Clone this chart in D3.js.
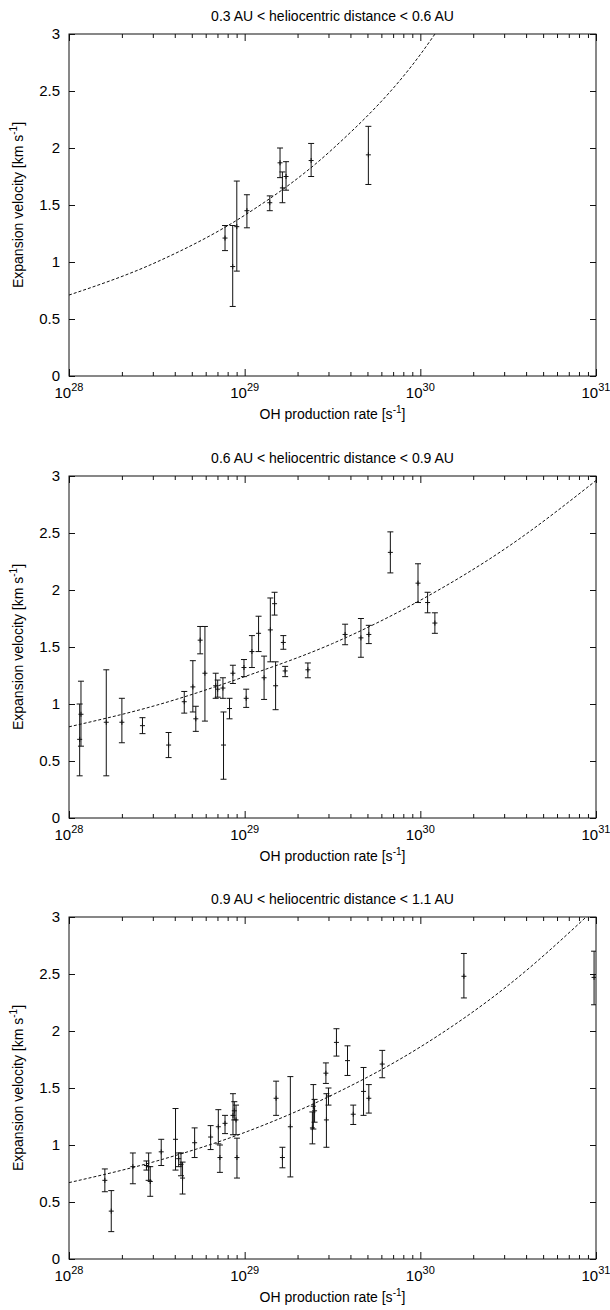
<!DOCTYPE html>
<html>
<head>
<meta charset="utf-8">
<script src="https://cdn.jsdelivr.net/npm/d3@7"></script>
<style>
  body { margin: 0; background: #fff; }
  svg text { font-family: "Liberation Sans", Arial, Helvetica, sans-serif; fill: #000; }
</style>
</head>
<body>
<script>
// panel titles and tick labels
const titles = [
  "0.3 AU < heliocentric distance < 0.6 AU",
  "0.6 AU < heliocentric distance < 0.9 AU",
  "0.9 AU < heliocentric distance < 1.1 AU"
];
const xMajor = [1e28, 1e29, 1e30, 1e31];
const xMajorExp = ["28", "29", "30", "31"];
const yTicks = [0, 0.5, 1, 1.5, 2, 2.5, 3];

// panel 1: OH production rate, velocity, lower / upper end of error bar
const q1  = [7.73e28, 8.55e28, 9.02e28, 1.03e29, 1.39e29, 1.59e29, 1.64e29, 1.72e29, 2.39e29, 5.06e29];
const v1  = [1.21, 0.96, 1.31, 1.45, 1.52, 1.87, 1.65, 1.75, 1.89, 1.94];
const lo1 = [1.10, 0.61, 0.92, 1.30, 1.45, 1.74, 1.52, 1.63, 1.75, 1.68];
const hi1 = [1.32, 1.32, 1.71, 1.59, 1.58, 2.00, 1.79, 1.88, 2.04, 2.19];
const fitQ1 = [1e28, 3.16e28, 1e29, 3.16e29, 1e30, 1.25e30];
const fitV1 = [0.71, 1.00, 1.41, 1.99, 2.82, 3.03];

// panel 2
const q2  = [1.15e28, 1.17e28, 1.63e28, 2.00e28, 2.62e28, 3.69e28, 4.53e28, 5.07e28, 5.27e28, 5.58e28,
             5.94e28, 6.84e28, 7.02e28, 7.52e28, 7.58e28, 8.20e28, 8.57e28, 9.91e28, 1.02e29, 1.10e29,
             1.20e29, 1.29e29, 1.40e29, 1.48e29, 1.50e29, 1.66e29, 1.70e29, 2.29e29, 3.73e29, 4.59e29,
             5.09e29, 6.75e29, 9.70e29, 1.10e30, 1.21e30];
const v2  = [0.69, 0.91, 0.84, 0.84, 0.81, 0.64, 1.02, 1.15, 0.87, 1.56,
             1.27, 1.16, 1.13, 1.14, 0.64, 0.96, 1.27, 1.32, 1.05, 1.46,
             1.62, 1.23, 1.65, 1.88, 1.16, 1.54, 1.29, 1.30, 1.61, 1.58,
             1.61, 2.33, 2.06, 1.89, 1.71];
const lo2 = [0.37, 0.63, 0.37, 0.66, 0.74, 0.53, 0.92, 0.93, 0.76, 1.44,
             0.85, 1.05, 1.06, 1.05, 0.34, 0.87, 1.18, 1.24, 0.97, 1.32,
             1.46, 1.04, 1.37, 1.78, 0.95, 1.48, 1.24, 1.23, 1.52, 1.41,
             1.53, 2.15, 1.89, 1.80, 1.62];
const hi2 = [1.00, 1.20, 1.30, 1.05, 0.88, 0.75, 1.11, 1.38, 0.98, 1.68,
             1.68, 1.27, 1.21, 1.23, 0.93, 1.05, 1.34, 1.39, 1.13, 1.60,
             1.77, 1.42, 1.93, 1.98, 1.37, 1.60, 1.33, 1.36, 1.70, 1.75,
             1.69, 2.51, 2.23, 1.98, 1.80];
const fitQ2 = [1e28, 3.16e28, 1e29, 3.16e29, 1e30, 3.16e30, 1e31];
const fitV2 = [0.80, 0.99, 1.24, 1.53, 1.91, 2.38, 2.96];

// panel 3
const q3  = [1.60e28, 1.74e28, 2.31e28, 2.76e28, 2.84e28, 2.90e28, 3.35e28, 4.04e28, 4.21e28, 4.34e28,
             4.43e28, 5.19e28, 6.40e28, 7.08e28, 7.23e28, 7.73e28, 8.58e28, 8.73e28, 8.93e28, 9.04e28,
             1.51e29, 1.64e29, 1.82e29, 2.43e29, 2.46e29, 2.50e29, 2.90e29, 2.92e29, 3.00e29, 3.33e29,
             3.85e29, 4.15e29, 4.75e29, 5.09e29, 6.07e29, 1.77e30, 9.75e30];
const v3  = [0.69, 0.42, 0.81, 0.82, 0.81, 0.68, 0.94, 1.05, 0.88, 0.83,
             0.71, 1.02, 1.07, 1.16, 0.89, 1.19, 1.26, 1.30, 1.22, 0.89,
             1.41, 0.89, 1.16, 1.15, 1.34, 1.30, 1.63, 1.22, 1.43, 1.90,
             1.74, 1.27, 1.47, 1.41, 1.71, 2.48, 2.47];
const lo3 = [0.59, 0.24, 0.66, 0.78, 0.69, 0.55, 0.82, 0.78, 0.81, 0.73,
             0.57, 0.89, 0.96, 1.01, 0.76, 1.10, 1.09, 1.22, 1.09, 0.71,
             1.26, 0.80, 0.72, 1.01, 1.14, 1.20, 1.54, 0.98, 1.35, 1.78,
             1.61, 1.18, 1.26, 1.28, 1.59, 2.29, 2.23];
const hi3 = [0.79, 0.60, 0.93, 0.86, 0.93, 0.81, 1.05, 1.32, 0.93, 0.93,
             0.85, 1.15, 1.17, 1.31, 1.00, 1.26, 1.45, 1.38, 1.35, 1.06,
             1.56, 0.98, 1.60, 1.29, 1.53, 1.40, 1.72, 1.45, 1.50, 2.02,
             1.87, 1.35, 1.68, 1.53, 1.83, 2.68, 2.70];
const fitQ3 = [1e28, 3.16e28, 1e29, 3.16e29, 1e30, 3.16e30, 1e31];
const fitV3 = [0.67, 0.86, 1.11, 1.44, 1.86, 2.40, 3.08];

const W = 610, H = 1310;
const left = 69, right = 596, ph = 342;
const tops = [34, 476, 917];
const ink = "#111";

const panels = [
  { q: q1, v: v1, lo: lo1, hi: hi1, fq: fitQ1, fv: fitV1 },
  { q: q2, v: v2, lo: lo2, hi: hi2, fq: fitQ2, fv: fitV2 },
  { q: q3, v: v3, lo: lo3, hi: hi3, fq: fitQ3, fv: fitV3 }
];

const svg = d3.select("body").append("svg").attr("width", W).attr("height", H);

const x = d3.scaleLog().domain([1e28, 1e31]).range([left, right]);

// minor ticks 2..9 within each decade
const xMinor = [];
for (let e = 28; e < 31; e++) for (let m = 2; m <= 9; m++) xMinor.push(m * Math.pow(10, e));

panels.forEach((p, i) => {
  const top = tops[i], bottom = top + ph;
  const y = d3.scaleLinear().domain([0, 3]).range([bottom, top]);
  const g = svg.append("g");
  const rows = p.q.map((q, k) => ({ q: q, v: p.v[k], lo: p.lo[k], hi: p.hi[k] }));

  g.append("defs").append("clipPath").attr("id", "clip" + i)
    .append("rect").attr("x", left).attr("y", top).attr("width", right - left).attr("height", ph);

  // title
  g.append("text").attr("x", (left + right) / 2).attr("y", top - 13)
    .attr("text-anchor", "middle").style("font-size", "14px").text(titles[i]);

  // axes, ticks pointing inward on all sides
  const axStyle = sel => {
    sel.select(".domain").remove();
    sel.selectAll("line").attr("stroke", ink);
  };
  g.append("g").attr("transform", `translate(0,${bottom})`)
    .call(d3.axisBottom(x).tickValues(xMajor).tickSize(-7).tickFormat(""))
    .call(axStyle);
  g.append("g").attr("transform", `translate(0,${bottom})`)
    .call(d3.axisBottom(x).tickValues(xMinor).tickSize(-4).tickFormat(""))
    .call(axStyle);
  g.append("g").attr("transform", `translate(0,${top})`)
    .call(d3.axisTop(x).tickValues(xMajor).tickSize(-7).tickFormat(""))
    .call(axStyle);
  g.append("g").attr("transform", `translate(0,${top})`)
    .call(d3.axisTop(x).tickValues(xMinor).tickSize(-4).tickFormat(""))
    .call(axStyle);
  const yl = g.append("g").attr("transform", `translate(${left},0)`)
    .call(d3.axisLeft(y).tickValues(yTicks).tickSize(-6).tickPadding(9).tickFormat(d3.format("")))
    .call(axStyle);
  yl.selectAll("text").style("font-size", "15px").attr("fill", "#000")
    .attr("font-family", "Liberation Sans, Arial, sans-serif");
  g.append("g").attr("transform", `translate(${right},0)`)
    .call(d3.axisRight(y).tickValues(yTicks).tickSize(-6).tickFormat(""))
    .call(axStyle);

  // frame
  g.append("rect").attr("x", left).attr("y", top).attr("width", right - left).attr("height", ph)
    .attr("fill", "none").attr("stroke", ink).attr("stroke-width", 1);

  // x tick labels 10^n
  xMajor.forEach((t, k) => {
    const tx = g.append("text").attr("x", x(t)).attr("y", bottom + 22)
      .attr("text-anchor", "middle").style("font-size", "15px");
    tx.append("tspan").text("10");
    tx.append("tspan").attr("dy", -7).style("font-size", "11px").text(xMajorExp[k]);
  });

  // axis titles
  const xt = g.append("text").attr("x", (left + right) / 2).attr("y", bottom + 43)
    .attr("text-anchor", "middle").style("font-size", "14px");
  xt.append("tspan").text("OH production rate [s");
  xt.append("tspan").attr("dy", -6).style("font-size", "10px").text("-1");
  xt.append("tspan").attr("dy", 6).text("]");

  const yt = g.append("text")
    .attr("transform", `translate(23,${(top + bottom) / 2}) rotate(-90)`)
    .attr("text-anchor", "middle").style("font-size", "14px");
  yt.append("tspan").text("Expansion velocity [km s");
  yt.append("tspan").attr("dy", -6).style("font-size", "10px").text("-1");
  yt.append("tspan").attr("dy", 6).text("]");

  // fit curve
  const line = d3.line().x(d => x(d[0])).y(d => y(d[1])).curve(d3.curveMonotoneX);
  g.append("path").datum(p.fq.map((q, k) => [q, p.fv[k]]))
    .attr("clip-path", `url(#clip${i})`)
    .attr("d", line).attr("fill", "none").attr("stroke", ink)
    .attr("stroke-width", 1).attr("stroke-dasharray", "3,2");

  // error bars
  const eb = g.append("g").attr("clip-path", `url(#clip${i})`)
    .attr("stroke", ink).attr("stroke-width", 1);
  eb.selectAll(".bar").data(rows).join("line")
    .attr("x1", d => x(d.q)).attr("x2", d => x(d.q))
    .attr("y1", d => y(d.lo)).attr("y2", d => y(d.hi));
  eb.selectAll(".capHi").data(rows).join("line").attr("class", "capHi")
    .attr("x1", d => x(d.q) - 3).attr("x2", d => x(d.q) + 3)
    .attr("y1", d => y(d.hi)).attr("y2", d => y(d.hi));
  eb.selectAll(".capLo").data(rows).join("line").attr("class", "capLo")
    .attr("x1", d => x(d.q) - 3).attr("x2", d => x(d.q) + 3)
    .attr("y1", d => y(d.lo)).attr("y2", d => y(d.lo));
  // "+" markers
  eb.selectAll(".pt").data(rows).join("path").attr("class", "pt")
    .attr("d", d => `M${x(d.q) - 2.5},${y(d.v)}h5M${x(d.q)},${y(d.v) - 2.5}v5`);
});
</script>
</body>
</html>
